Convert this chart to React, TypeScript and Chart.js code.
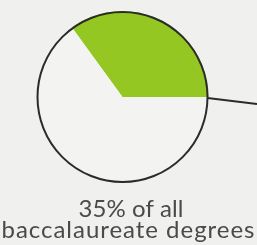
import React, { useEffect, useRef } from "react";
import { Chart, registerables } from "chart.js";

Chart.register(...registerables);

const categories = ["Share of baccalaureate degrees", "Other"];
const values = [35, 65];
const colors = ["#95c723", "#f3f3f1"];
const titleLines = ["35% of all", "baccalaureate degrees"];

const outlinePlugin = {
  id: "outline",
  afterDatasetsDraw(chart: any) {
    const meta = chart.getDatasetMeta(0);
    const arc = meta.data[0];
    if (!arc) return;
    const { x, y, outerRadius } = arc.getProps(["x", "y", "outerRadius"], true);
    const ctx = chart.ctx;
    ctx.save();
    ctx.strokeStyle = "#2b2b2b";
    ctx.lineWidth = 2;
    ctx.beginPath();
    ctx.arc(x, y, outerRadius - 1, 0, Math.PI * 2);
    ctx.stroke();
    ctx.beginPath();
    ctx.moveTo(x + outerRadius - 1, y + 1);
    ctx.lineTo(chart.width, y + 7);
    ctx.stroke();

    // caption below the pie
    ctx.fillStyle = "#4a4a4a";
    ctx.font = "24px Lato";
    ctx.textAlign = "center";
    ctx.textBaseline = "alphabetic";
    const centers = [131, 128];
    const targets = [105, 253];
    const base = chart.chartArea.bottom;
    titleLines.forEach((line, i) => {
      (ctx as any).letterSpacing = "0px";
      const w = ctx.measureText(line).width;
      const spacing = Math.max(0, (targets[i] - w) / Math.max(1, line.length - 1));
      (ctx as any).letterSpacing = `${spacing.toFixed(2)}px`;
      ctx.fillText(line, centers[i] + spacing / 2, base + 34 + i * 21);
    });
    (ctx as any).letterSpacing = "0px";
    ctx.restore();
  },
};

export default function App() {
  const ref = useRef<HTMLCanvasElement>(null);
  useEffect(() => {
    document.body.style.margin = "0";
    document.body.style.background = "#f0f0ee";
    const chart = new Chart(ref.current!, {
      type: "pie",
      data: {
        labels: categories,
        datasets: [
          {
            data: values,
            backgroundColor: colors,
            borderWidth: 0,
          },
        ],
      },
      options: {
        animation: false,
        responsive: false,
        rotation: -36,
        layout: { padding: { left: 36, top: 11, right: 48, bottom: 62 } },
        plugins: {
          legend: { display: false },
          tooltip: { enabled: false },
          title: { display: false },
        },
      },
      plugins: [outlinePlugin],
    });
    return () => chart.destroy();
  }, []);
  return <canvas ref={ref} width={257} height={245} style={{ display: "block" }} />;
}
